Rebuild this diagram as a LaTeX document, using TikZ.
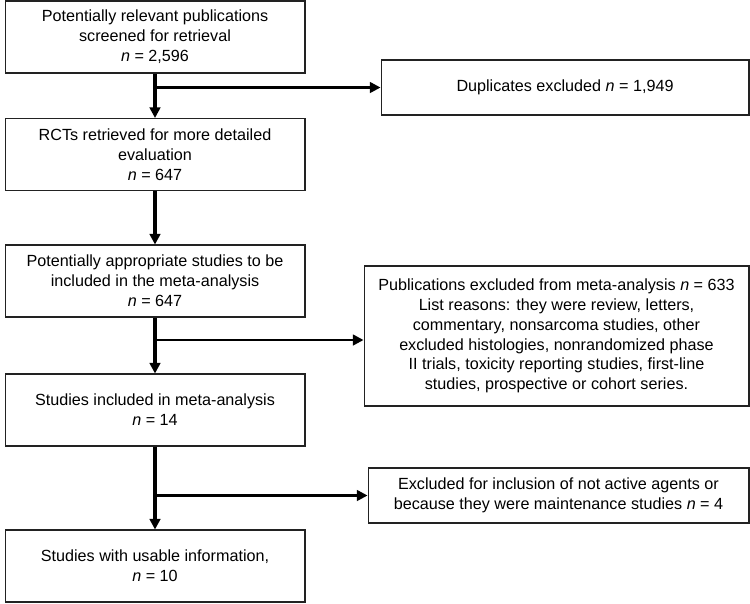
\documentclass[tikz,border=0pt]{standalone}
\usepackage{fontspec}
\setmainfont{Liberation Sans}
\usepackage{tikz}
\usetikzlibrary{positioning,arrows.meta}
\definecolor{boxline}{HTML}{222222}

\begin{document}
\begin{tikzpicture}[
			x=0.02cm,
			y=-0.02cm,
			>={Triangle[length=6pt,width=6pt]},
			every node/.style={font=\fontsize{9.2}{11.3}\selectfont},
			flowbox/.style={draw=boxline, line width=0.6pt, align=center, inner sep=2pt},
			leftbox/.style={flowbox, minimum width=6cm, minimum height=1.44cm},
			trunk/.style={->, line width=1.8pt},
			branch/.style={->, line width=1.4pt}
		]
			\useasboundingbox (0,0) rectangle (750,603);

			% main column
			\node[leftbox] (screened) at (155,37)
				{Potentially relevant publications\\screened for retrieval\\\emph{n} = 2,596};
			\node[leftbox] (retrieved) at (155,154.5)
				{RCTs retrieved for more detailed\\evaluation\\\emph{n} = 647};
			\node[leftbox] (appropriate) at (155,281)
				{Potentially appropriate studies to be\\included in the meta-analysis\\\emph{n} = 647};
			\node[leftbox] (included) at (155,410)
				{Studies included in meta-analysis\\\emph{n} = 14};
			\node[leftbox] (usable) at (155,566)
				{Studies with usable information,\\\emph{n} = 10};

			% exclusions
			\node[flowbox, minimum width=7.36cm, minimum height=1.1cm] (duplicates) at (565,87.5)
				{Duplicates excluded \emph{n} = 1,949};
			\node[flowbox, minimum width=7.7cm, minimum height=2.8cm] (pubexcl) at (556.5,336)
				{Publications excluded from meta-analysis \emph{n} = 633\\
				List reasons: they were review, letters,\\
				commentary, nonsarcoma studies, other\\
				excluded histologies, nonrandomized phase\\
				II trials, toxicity reporting studies, first-line\\
				studies, prospective or cohort series.};
			\node[flowbox, minimum width=7.62cm, minimum height=1.1cm] (notactive) at (558.5,495.5)
				{Excluded for inclusion of not active agents or\\because they were maintenance studies \emph{n} = 4};

			\draw[trunk] (screened) -- (retrieved);
			\draw[trunk] (retrieved) -- (appropriate);
			\draw[trunk] (appropriate) -- (included);
			\draw[trunk] (included) -- (usable);

			\coordinate (fork1) at (screened.south |- duplicates.west);
			\coordinate (fork2) at (appropriate.south |- 0,340);
			\coordinate (fork3) at (included.south |- notactive.west);
			\draw[branch] (fork1) -- (duplicates);
			\draw[branch] (fork2) -- (fork2 -| pubexcl.west);
			\draw[branch] (fork3) -- (notactive);
		\end{tikzpicture}
\end{document}
